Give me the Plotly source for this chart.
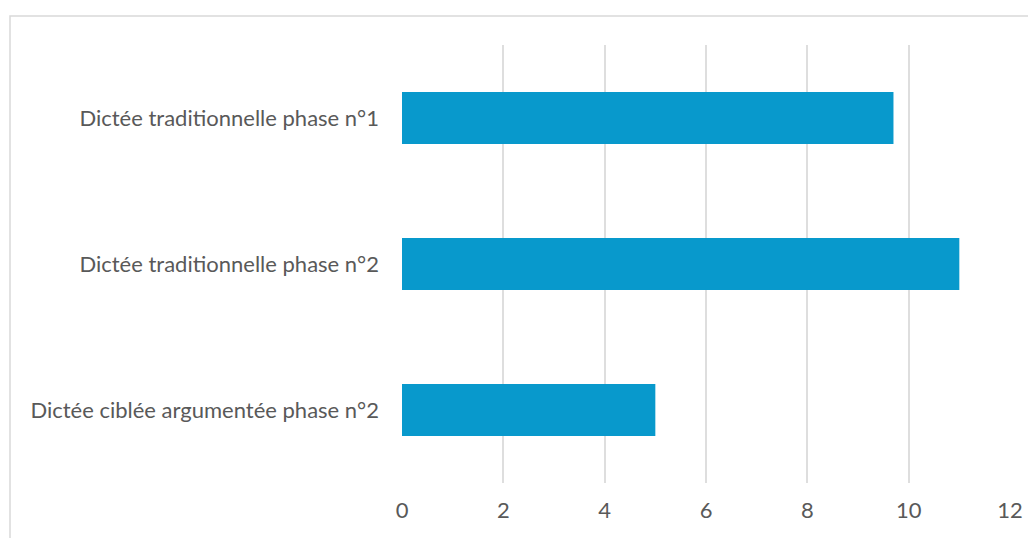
import plotly.graph_objects as go

categories = ["Dictée traditionnelle phase n°1", "Dictée traditionnelle phase n°2", "Dictée ciblée argumentée phase n°2"]
values = [9.7, 11, 5]
tick_vals = [0, 2, 4, 6, 8, 10, 12]

# page body has an 8px default margin, so the figure is offset by 8px
OFF = 8
W, H = 1036 - OFF, 538 - OFF
L, R, T = 402 - OFF, 26, 45 - OFF
pw, ph = 608, 438
B = H - T - ph

fig = go.Figure(go.Bar(
    y=categories, x=values, orientation="h",
    marker=dict(color="#0899cc", line=dict(width=0)),
    hoverinfo="x+y",
))

font = dict(family="Lato, Open Sans, sans-serif", size=22, color="#595959")

fig.update_layout(
    width=W, height=H,
    margin=dict(l=L, r=R, t=T, b=B, pad=0),
    paper_bgcolor="white", plot_bgcolor="white",
    bargap=0.644,
    showlegend=False,
    font=font,
    xaxis=dict(range=[0, 12], tickvals=tick_vals, showgrid=True, gridcolor="#dedede", gridwidth=1.5,
               zeroline=False, showline=False, ticks="", ticklabelstandoff=12, tickfont=font),
    yaxis=dict(autorange="reversed", showgrid=False, zeroline=False, showline=False, ticks="",
               ticklabelstandoff=22, tickfont=font),
    shapes=[dict(type="rect", xref="paper", yref="paper",
                 x0=(10 - OFF - L) / pw, x1=(1045 - OFF - L) / pw,
                 y0=(H - B - 545) / ph, y1=(H - B - (16 - OFF)) / ph,
                 line=dict(color="#d9d9d9", width=1.5), fillcolor="rgba(0,0,0,0)", layer="below")],
)

fig.write_html("out.html")
